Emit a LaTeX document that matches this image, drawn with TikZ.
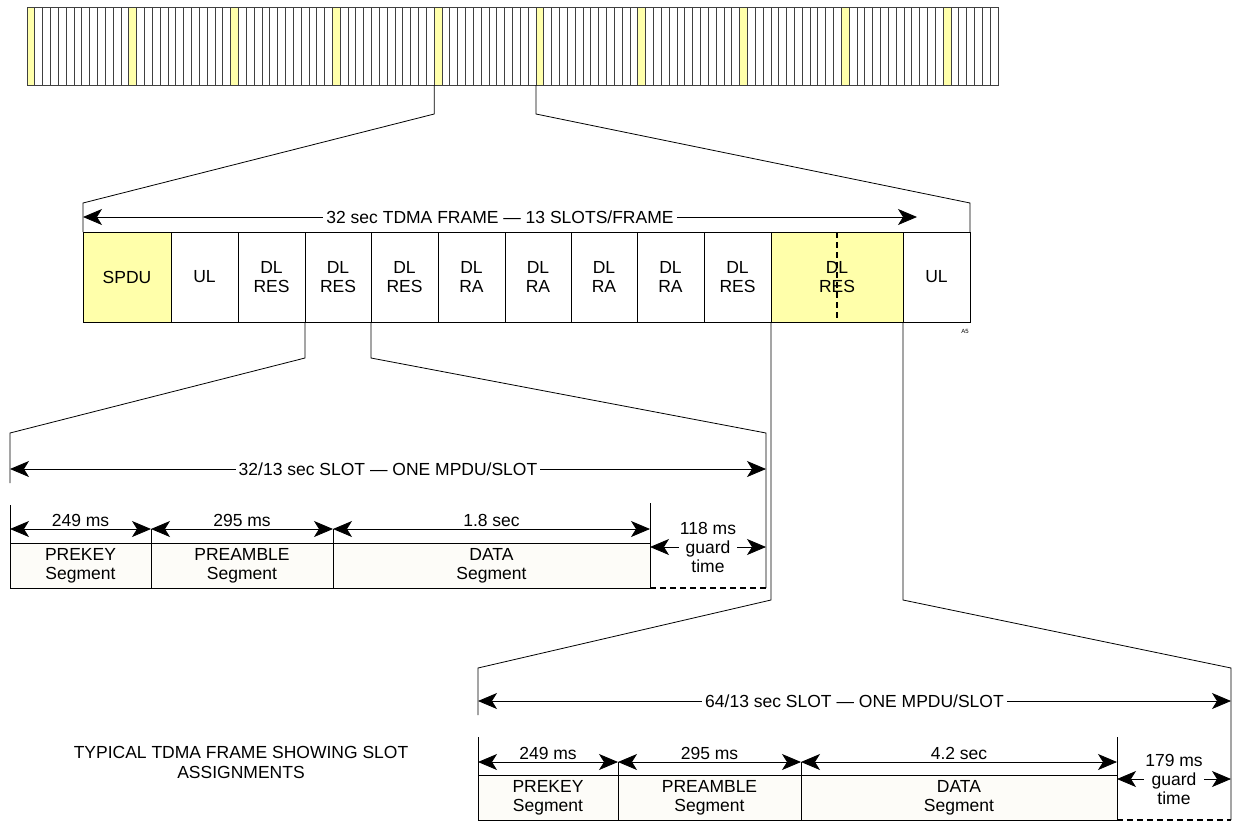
\documentclass[tikz,border=0pt]{standalone}
\usepackage{fontspec}
\setmainfont{Liberation Sans}
\usetikzlibrary{arrows.meta,calc}
\definecolor{hl}{RGB}{255,255,170}
\definecolor{seg}{RGB}{253,252,248}
\begin{document}
\begin{tikzpicture}[x=1pt,y=-1pt,
  font=\fontsize{17.5}{18.5}\selectfont,
  tslot/.style={draw=black!75, line width=0.8pt, anchor=north west, minimum width=7.8306pt, minimum height=78pt, inner sep=0pt, outer sep=0pt},
  fslot/.style={draw=black, line width=0.8pt, anchor=north west, minimum height=90pt, inner sep=0pt, outer sep=0pt, align=center},
  segbox/.style={draw=black, line width=0.8pt, fill=seg, anchor=north west, minimum height=45pt, inner sep=0pt, outer sep=0pt, align=center, font=\fontsize{17.5}{19}\selectfont},
  zl/.style={draw=black, line width=0.8pt},
  dim/.style={line width=0.8pt, arrows={Stealth[length=19pt,width=16pt,inset=5pt]-Stealth[length=19pt,width=16pt,inset=5pt]}},
  lbl/.style={fill=white, inner sep=3pt},
  guardtxt/.style={fill=white, inner sep=1pt, align=center, font=\fontsize{17.5}{19}\selectfont},
]
\useasboundingbox (0,0) rectangle (1235,823);

% ---------- top bar of slots ----------
\foreach \i in {0,...,123}{
  \pgfmathsetmacro\xx{27+\i*7.8306}
  \pgfmathtruncatemacro\m{mod(\i,13)}
  \ifnum\m=0 \def\fc{hl}\else\def\fc{white}\fi
  \node[tslot, fill=\fc] (t\i) at (\xx,7) {};
}

% ---------- frame ----------
\node[fslot, fill=hl, minimum width=88pt] (f1) at (83,232) {SPDU};
\node[fslot, minimum width=67pt] (f2) at (171,232) {UL};
\node[fslot, minimum width=67pt] (f3) at (238,232) {DL\\RES};
\node[fslot, minimum width=66pt] (f4) at (305,232) {DL\\RES};
\node[fslot, minimum width=67pt] (f5) at (371,232) {DL\\RES};
\node[fslot, minimum width=67pt] (f6) at (438,232) {DL\\RA};
\node[fslot, minimum width=66pt] (f7) at (505,232) {DL\\RA};
\node[fslot, minimum width=66pt] (f8) at (571,232) {DL\\RA};
\node[fslot, minimum width=67pt] (f9) at (637,232) {DL\\RA};
\node[fslot, minimum width=67pt] (f10) at (704,232) {DL\\RES};
\node[fslot, fill=hl, minimum width=132pt] (f11) at (771,232) {DL\\RES};
\node[fslot, minimum width=67pt] (f12) at (903,232) {UL};
\draw[line width=1.5pt, dash pattern=on 6pt off 4pt] (f11.north) -- (f11.south);
\node[font=\fontsize{6}{7}\selectfont, inner sep=0pt] (a5) at (965,331) {A5};

% zoom lines: top bar -> frame
\draw[zl] (t52.south west) -- ++(0,29) -- ($(f1.north west)+(0,-29)$) -- (f1.north west);
\draw[zl] (t65.south west) -- ++(0,29) -- ($(f12.north east)+(0,-29)$) -- (f12.north east);

% frame dimension arrow
\coordinate (fa) at (83,217);
\coordinate (fb) at (917,217);
\draw[dim] (fa) -- node[lbl] (ft) {32 sec TDMA FRAME --- 13 SLOTS/FRAME} (fb);

% ---------- slot 1 (32/13 sec) ----------
\coordinate (z1l) at (10,433);
\coordinate (z1r) at (766,433);
\draw[zl] (f4.south west) -- ++(0,36) -- (z1l) -- ++(0,50);
\draw[zl] (f5.south west) -- ++(0,36) -- (z1r) -- ++(0,155);
\coordinate (s1a) at (10,469);
\coordinate (s1b) at (766,469);
\draw[dim] (s1a) -- node[lbl] (s1t) {32/13 sec SLOT --- ONE MPDU/SLOT} (s1b);

\node[segbox, minimum width=141pt] (p1) at (10,543) {PREKEY\\Segment};
\node[segbox, minimum width=182pt] (q1) at (151,543) {PREAMBLE\\Segment};
\node[segbox, minimum width=317pt] (d1) at (333,543) {DATA\\Segment};
\coordinate (g1) at (766,588);
\draw[zl] (p1.south west) -- ++(0,-83);
\draw[zl] (q1.north west) -- ++(0,-14);
\draw[zl] (d1.north west) -- ++(0,-14);
\draw[zl] (d1.south east) -- ++(0,-85);
\draw[line width=1.5pt, dash pattern=on 6pt off 4pt] (d1.south east) -- (g1);
\draw[dim] ($(p1.north west)+(0,-14)$) -- node[above=1pt, inner sep=1pt] (l11) {249 ms} ($(p1.north east)+(0,-14)$);
\draw[dim] ($(q1.north west)+(0,-14)$) -- node[above=1pt, inner sep=1pt] (l12) {295 ms} ($(q1.north east)+(0,-14)$);
\draw[dim] ($(d1.north west)+(0,-14)$) -- node[above=1pt, inner sep=1pt] (l13) {1.8 sec} ($(d1.north east)+(0,-14)$);
\draw[dim] ($(d1.north east)+(0,4)$) -- node[guardtxt] (gt1) {118 ms\\guard\\time} ($(d1.north east)+(116,4)$);

% ---------- slot 2 (64/13 sec) ----------
\coordinate (z2l) at (478,668);
\coordinate (z2r) at (1231,668);
\draw[zl] (f11.south west) -- (771,600) -- (z2l) -- ++(0,47);
\draw[zl] (f12.south west) -- (903,600) -- (z2r) -- ++(0,152);
\coordinate (s2a) at (478,701);
\coordinate (s2b) at (1231,701);
\draw[dim] (s2a) -- node[lbl] (s2t) {64/13 sec SLOT --- ONE MPDU/SLOT} (s2b);

\node[segbox, minimum width=140pt] (p2) at (478,775) {PREKEY\\Segment};
\node[segbox, minimum width=183pt] (q2) at (618,775) {PREAMBLE\\Segment};
\node[segbox, minimum width=316pt] (d2) at (801,775) {DATA\\Segment};
\coordinate (g2) at (1231,820);
\draw[zl] (p2.south west) -- ++(0,-83);
\draw[zl] (q2.north west) -- ++(0,-13);
\draw[zl] (d2.north west) -- ++(0,-13);
\draw[zl] (d2.south east) -- ++(0,-83);
\draw[line width=1.5pt, dash pattern=on 6pt off 4pt] (d2.south east) -- (g2);
\draw[dim] ($(p2.north west)+(0,-13)$) -- node[above=1pt, inner sep=1pt] (l21) {249 ms} ($(p2.north east)+(0,-13)$);
\draw[dim] ($(q2.north west)+(0,-13)$) -- node[above=1pt, inner sep=1pt] (l22) {295 ms} ($(q2.north east)+(0,-13)$);
\draw[dim] ($(d2.north west)+(0,-13)$) -- node[above=1pt, inner sep=1pt] (l23) {4.2 sec} ($(d2.north east)+(0,-13)$);
\draw[dim] ($(d2.north east)+(0,4)$) -- node[guardtxt] (gt2) {179 ms\\guard\\time} ($(d2.north east)+(114,4)$);

% ---------- caption ----------
\node[align=center, font=\fontsize{17.5}{20}\selectfont] (cap) at (241,762) {TYPICAL TDMA FRAME SHOWING SLOT\\ASSIGNMENTS};
\end{tikzpicture}
\end{document}
